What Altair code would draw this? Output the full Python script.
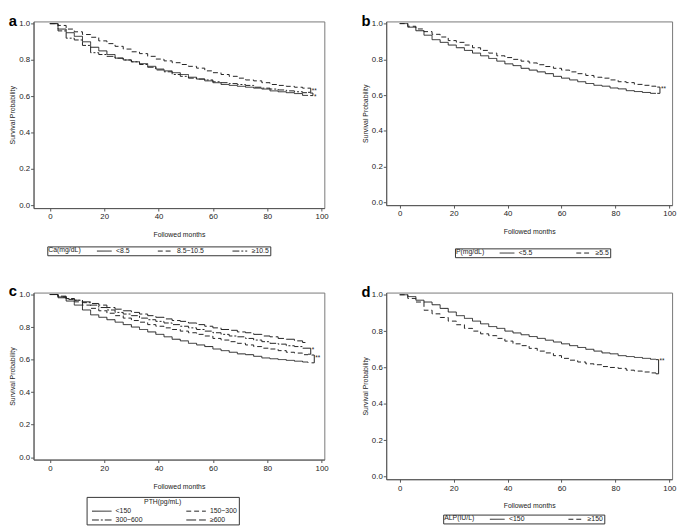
import altair as alt
import pandas as pd

FONT = "Liberation Sans"

months = [0, 3, 6, 9, 12, 15, 18, 21, 24, 27, 30, 33, 36, 39, 42, 45, 48, 51, 54,
          57, 60, 63, 66, 69, 72, 75, 78, 81, 84, 87, 90, 93, 95]

# Panel a: Ca
ca_groups = ["<8.5", "8.5~10.5", "≥10.5"]
ca_lt85 = [1.0, 0.97, 0.95, 0.93, 0.90, 0.87, 0.85, 0.83, 0.81, 0.80, 0.79, 0.78, 0.765,
           0.75, 0.74, 0.73, 0.72, 0.705, 0.695, 0.685, 0.675, 0.665, 0.66, 0.655, 0.65,
           0.645, 0.64, 0.63, 0.625, 0.62, 0.615, 0.605, 0.605]
ca_mid = [1.0, 0.99, 0.97, 0.955, 0.94, 0.925, 0.905, 0.89, 0.875, 0.86, 0.845, 0.835, 0.82,
          0.805, 0.795, 0.785, 0.775, 0.765, 0.755, 0.74, 0.73, 0.72, 0.71, 0.70, 0.69,
          0.685, 0.675, 0.665, 0.66, 0.655, 0.65, 0.645, 0.645]
ca_ge105 = [1.0, 0.96, 0.92, 0.91, 0.88, 0.84, 0.83, 0.82, 0.81, 0.80, 0.79, 0.775, 0.76,
            0.745, 0.735, 0.72, 0.71, 0.70, 0.695, 0.69, 0.68, 0.675, 0.67, 0.665, 0.66,
            0.65, 0.645, 0.64, 0.635, 0.63, 0.625, 0.62, 0.62]

# Panel b: P
p_groups = ["<5.5", "≥5.5"]
p_lt55 = [1.0, 0.98, 0.96, 0.935, 0.91, 0.895, 0.88, 0.865, 0.85, 0.835, 0.82, 0.805, 0.79,
          0.775, 0.765, 0.75, 0.74, 0.73, 0.72, 0.705, 0.695, 0.685, 0.675, 0.665, 0.655,
          0.65, 0.64, 0.635, 0.625, 0.62, 0.615, 0.61, 0.61]
p_ge55 = [1.0, 0.985, 0.97, 0.955, 0.94, 0.925, 0.905, 0.895, 0.88, 0.865, 0.85, 0.835, 0.82,
          0.81, 0.80, 0.79, 0.78, 0.77, 0.76, 0.75, 0.74, 0.73, 0.72, 0.71, 0.70,
          0.695, 0.685, 0.675, 0.67, 0.66, 0.655, 0.65, 0.645]

# Panel c: PTH
pth_groups = ["<150", "150~300", "300~600", "≥600"]
pth_lt150 = [1.0, 0.98, 0.96, 0.935, 0.905, 0.875, 0.86, 0.845, 0.83, 0.815, 0.80, 0.785, 0.77,
             0.755, 0.74, 0.725, 0.715, 0.70, 0.69, 0.68, 0.665, 0.655, 0.645, 0.635, 0.63,
             0.62, 0.61, 0.605, 0.60, 0.595, 0.59, 0.585, 0.58]
pth_150_300 = [1.0, 0.985, 0.97, 0.955, 0.935, 0.915, 0.90, 0.885, 0.87, 0.855, 0.84, 0.83, 0.815,
               0.805, 0.795, 0.785, 0.775, 0.765, 0.755, 0.745, 0.73, 0.72, 0.71, 0.70, 0.69,
               0.68, 0.67, 0.665, 0.655, 0.645, 0.64, 0.63, 0.63]
pth_300_600 = [1.0, 0.99, 0.975, 0.965, 0.95, 0.935, 0.92, 0.905, 0.89, 0.88, 0.87, 0.855, 0.845,
               0.835, 0.825, 0.815, 0.805, 0.795, 0.785, 0.775, 0.765, 0.755, 0.745, 0.74, 0.73,
               0.72, 0.71, 0.70, 0.695, 0.685, 0.68, 0.67, 0.67]
pth_ge600 = [1.0, 0.985, 0.975, 0.965, 0.955, 0.945, 0.935, 0.92, 0.91, 0.90, 0.89, 0.88, 0.87,
             0.86, 0.85, 0.84, 0.835, 0.825, 0.815, 0.805, 0.795, 0.785, 0.78, 0.77, 0.765,
             0.755, 0.745, 0.74, 0.73, 0.725, 0.715, 0.705, 0.705]

# Panel d: ALP
alp_groups = ["<150", "≥150"]
alp_lt150 = [1.0, 0.99, 0.97, 0.96, 0.945, 0.925, 0.905, 0.885, 0.87, 0.855, 0.84, 0.825, 0.815,
             0.80, 0.79, 0.78, 0.77, 0.76, 0.75, 0.74, 0.73, 0.72, 0.71, 0.70, 0.69,
             0.68, 0.675, 0.665, 0.66, 0.655, 0.65, 0.645, 0.645]
alp_ge150 = [1.0, 0.98, 0.96, 0.915, 0.895, 0.875, 0.855, 0.835, 0.815, 0.80, 0.785, 0.775, 0.76,
             0.745, 0.73, 0.72, 0.705, 0.69, 0.68, 0.665, 0.65, 0.64, 0.63, 0.62, 0.615,
             0.605, 0.60, 0.595, 0.585, 0.58, 0.575, 0.57, 0.565]

# significance brackets: (month, top, bottom, label, label y)
ca_brackets = [(96.0, 0.645, 0.622, "**", 0.637), (96.8, 0.618, 0.604, "*", 0.603)]
p_brackets = [(96.5, 0.645, 0.61, "**", 0.642)]
pth_brackets = [(96.0, 0.67, 0.633, "*", 0.665), (97.3, 0.628, 0.58, "**", 0.618)]
alp_brackets = [(96.0, 0.643, 0.565, "**", 0.64)]

x_ticks = [0, 20, 40, 60, 80, 100]
y_ticks = [0.0, 0.2, 0.4, 0.6, 0.8, 1.0]

SOLID = [1, 0]
DASH = [5, 3]
DASHDOT = [7, 2, 2, 2]
LONGDASH = [10, 3]
LINE = "#222222"
HLINE = "M0,0H6"   # flat legend symbol, drawn 3x the nominal symbol box to the right


def km_frame(groups, series):
    rows = []
    for g, vals in zip(groups, series):
        for t, v in zip(months, vals):
            rows.append({"month": t, "surv": v, "group": g})
    return pd.DataFrame(rows)


def panel(letter, df, groups, dashes, legend, brackets, w, h, xdom):
    xs = alt.Scale(domain=xdom, nice=False, zero=False)
    ys = alt.Scale(domain=[-0.015, 1.012], nice=False, zero=False)
    xax = alt.Axis(values=x_ticks, title="Followed months", grid=False, format="d",
                   labelOverlap=False)
    yax = alt.Axis(values=y_ticks, title="Survival Probability", grid=False, format=".1f",
                   labelOverlap=False)
    lines = alt.Chart(df).mark_line(interpolate="step-after", color=LINE, strokeWidth=1).encode(
        x=alt.X("month:Q", scale=xs, axis=xax),
        y=alt.Y("surv:Q", scale=ys, axis=yax),
        strokeDash=alt.StrokeDash("group:N", scale=alt.Scale(domain=groups, range=dashes),
                                  legend=legend),
    )
    vb = pd.DataFrame([{"month": b[0], "top": b[1], "bot": b[2], "label": b[3], "ty": b[4]}
                       for b in brackets])
    hb = pd.DataFrame([{"month": b[0] - 1.0, "m2": b[0], "surv": yy}
                       for b in brackets for yy in (b[1], b[2])])
    vrule = alt.Chart(vb).mark_rule(color=LINE, strokeWidth=1).encode(
        x=alt.X("month:Q", scale=xs, axis=xax), y=alt.Y("top:Q", scale=ys, axis=yax),
        y2="bot:Q")
    hrule = alt.Chart(hb).mark_rule(color=LINE, strokeWidth=1).encode(
        x=alt.X("month:Q", scale=xs, axis=xax), x2="m2:Q",
        y=alt.Y("surv:Q", scale=ys, axis=yax))
    txt = alt.Chart(vb).mark_text(align="left", baseline="middle", dx=1, dy=1, fontSize=6.5,
                                  font=FONT, color=LINE).encode(
        x=alt.X("month:Q", scale=xs, axis=xax), y=alt.Y("ty:Q", scale=ys, axis=yax),
        text="label:N")
    return alt.layer(lines, vrule, hrule, txt).properties(
        width=w, height=h,
        title=alt.TitleParams(letter, anchor="start", fontSize=15, fontWeight="bold",
                              font=FONT, color="black", offset=-9),
    )


def row_legend(title, x, y, pad):
    # nominal symbol box 5px; the line is drawn 15px long starting at its centre
    return alt.Legend(title=title, orient="none", legendX=x, legendY=y, direction="horizontal",
                      titleOrient="left", symbolType=HLINE, symbolSize=25,
                      symbolStrokeColor=LINE, symbolStrokeWidth=1, columnPadding=pad,
                      titlePadding=12, padding=1, strokeColor="#333333",
                      labelFontSize=7, titleFontSize=7, titleFontWeight="normal",
                      labelFont=FONT, titleFont=FONT, labelColor="#222", titleColor="#222",
                      labelOffset=16)


leg_a = row_legend("Ca(mg/dL)", 14, 229, 25)
leg_b = row_legend("P(mg/dL)", 70, 231, 41)
leg_d = row_legend("ALP(IU/L)", 58, 226, 41)
# nominal symbol box 6.7px; the line is drawn 20px long
leg_c = alt.Legend(title="PTH(pg/mL)", orient="none", legendX=54, legendY=208,
                   direction="horizontal", columns=2, titleOrient="top", titleAnchor="middle",
                   symbolType=HLINE, symbolSize=44, symbolStrokeColor=LINE,
                   symbolStrokeWidth=1, columnPadding=40, rowPadding=2, titlePadding=2,
                   padding=1.5, strokeColor="#333333", labelFontSize=7, titleFontSize=7,
                   titleFontWeight="normal", labelFont=FONT, titleFont=FONT,
                   labelColor="#222", titleColor="#222", labelOffset=20)

pa = panel("a", km_frame(ca_groups, [ca_lt85, ca_mid, ca_ge105]), ca_groups,
           [SOLID, DASH, DASHDOT], leg_a, ca_brackets, 296, 190, [-6, 101])
pb = panel("b", km_frame(p_groups, [p_lt55, p_ge55]), p_groups,
           [SOLID, DASH], leg_b, p_brackets, 291, 187, [-5, 101])
pc = panel("c", km_frame(pth_groups, [pth_lt150, pth_150_300, pth_300_600, pth_ge600]),
           pth_groups, [SOLID, DASH, DASHDOT, LONGDASH], leg_c, pth_brackets, 296, 170, [-6, 101])
pd_ = panel("d", km_frame(alp_groups, [alp_lt150, alp_ge150]), alp_groups,
            [SOLID, DASH], leg_d, alp_brackets, 291, 190, [-5, 101])

top = alt.hconcat(pa, pb, spacing=32).resolve_scale(strokeDash="independent").resolve_legend(
    strokeDash="independent")
bottom = alt.hconcat(pc, pd_, spacing=32).resolve_scale(strokeDash="independent").resolve_legend(
    strokeDash="independent")

chart = alt.vconcat(top, bottom, spacing=26).resolve_scale(
    strokeDash="independent").resolve_legend(strokeDash="independent").properties(
    padding=0, background="white").configure_view(stroke="#777777", strokeWidth=1).configure_axis(
    labelFont=FONT, titleFont=FONT, labelFontSize=8, titleFontSize=7, titleFontWeight="normal",
    labelColor="#222222", titleColor="#222222", domainColor="#555555", tickColor="#555555",
    tickSize=3, labelPadding=1).configure_axisX(titlePadding=10, labelPadding=2).configure_axisY(
    titlePadding=3)

chart.save("out.html", embed_options={"renderer": "svg", "actions": False})
